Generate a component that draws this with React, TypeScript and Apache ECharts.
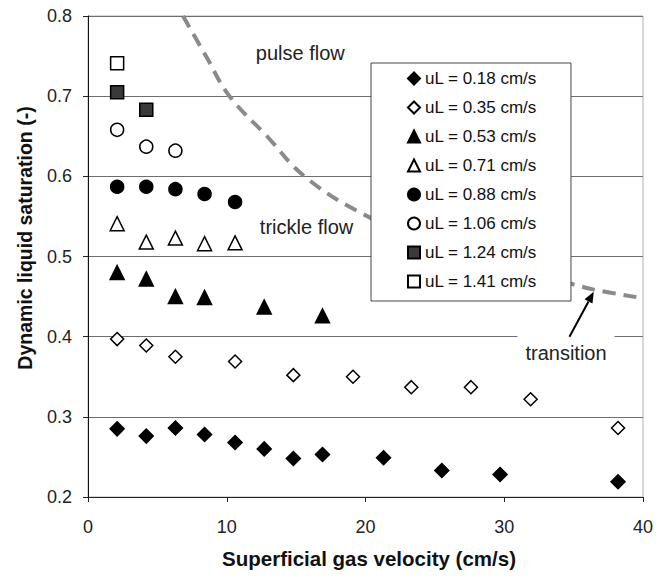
import React, { useEffect, useRef } from "react";
import * as echarts from "echarts";

// ---- data ----
const seriesNames = [
  "uL = 0.18 cm/s",
  "uL = 0.35 cm/s",
  "uL = 0.53 cm/s",
  "uL = 0.71 cm/s",
  "uL = 0.88 cm/s",
  "uL = 1.06 cm/s",
  "uL = 1.24 cm/s",
  "uL = 1.41 cm/s",
];

const x018 = [2.1, 4.2, 6.3, 8.4, 10.6, 12.7, 14.8, 16.9, 21.3, 25.5, 29.7, 38.2];
const y018 = [0.285, 0.276, 0.286, 0.278, 0.268, 0.26, 0.248, 0.253, 0.249, 0.233, 0.228, 0.219];
const x035 = [2.1, 4.2, 6.3, 10.6, 14.8, 19.1, 23.3, 27.6, 31.9, 38.2];
const y035 = [0.397, 0.389, 0.375, 0.369, 0.352, 0.35, 0.337, 0.337, 0.322, 0.286];
const x053 = [2.1, 4.2, 6.3, 8.4, 12.7, 16.9];
const y053 = [0.48, 0.472, 0.45, 0.449, 0.437, 0.426];
const x071 = [2.1, 4.2, 6.3, 8.4, 10.6];
const y071 = [0.541, 0.518, 0.523, 0.516, 0.517];
const x088 = [2.1, 4.2, 6.3, 8.4, 10.6];
const y088 = [0.587, 0.587, 0.584, 0.578, 0.568];
const x106 = [2.1, 4.2, 6.3];
const y106 = [0.658, 0.637, 0.632];
const x124 = [2.1, 4.2];
const y124 = [0.705, 0.683];
const x141 = [2.1];
const y141 = [0.741];

// transition boundary (dashed curve)
const xTrans = [6.85, 8.5, 10.2, 12.9, 15.6, 19.6, 24.0, 29.0, 34.6, 36.4, 40.0];
const yTrans = [0.8, 0.75, 0.7, 0.65, 0.6, 0.555, 0.522, 0.49, 0.467, 0.459, 0.448];

const xTicks = [0, 10, 20, 30, 40];
const yTickLabels = ["0.2", "0.3", "0.4", "0.5", "0.6", "0.7", "0.8"];

const FONT = "'Liberation Sans', Arial, Helvetica, sans-serif";

export default function App() {
  const ref = useRef<HTMLDivElement>(null);

  useEffect(() => {
    const chart = echarts.init(ref.current!, null, { renderer: "svg" });
    const pts = (xs: number[], ys: number[]) => xs.map((x, i) => [x, ys[i]]);

    const specs = [
      { xs: x018, ys: y018, symbol: "diamond", fill: "#000", size: 14 },
      { xs: x035, ys: y035, symbol: "diamond", fill: "#fff", size: 13 },
      { xs: x053, ys: y053, symbol: "triangle", fill: "#000", size: 14 },
      { xs: x071, ys: y071, symbol: "triangle", fill: "#fff", size: 14 },
      { xs: x088, ys: y088, symbol: "circle", fill: "#000", size: 13 },
      { xs: x106, ys: y106, symbol: "circle", fill: "#fff", size: 13 },
      { xs: x124, ys: y124, symbol: "rect", fill: "#3a3a3a", size: 13 },
      { xs: x141, ys: y141, symbol: "rect", fill: "#fff", size: 13 },
    ];

    const scatter = specs.map((s, i) => ({
      name: seriesNames[i],
      type: "scatter",
      data: pts(s.xs, s.ys),
      symbol: s.symbol,
      symbolSize: s.size,
      itemStyle: { color: s.fill, borderColor: "#000", borderWidth: 1.5, opacity: 1 },
      z: 3,
    }));

    chart.setOption({
      animation: false,
      backgroundColor: "#fff",
      textStyle: { fontFamily: FONT },
      grid: {
        left: 88,
        right: 25,
        top: 16,
        bottom: 82,
        show: true,
        borderColor: "#b0b0b0",
        borderWidth: 1,
      },
      xAxis: {
        type: "value",
        min: 0,
        max: 40,
        interval: 10,
        axisLine: { show: true, lineStyle: { color: "#222", width: 1 } },
        axisTick: { show: true, inside: false, length: 5, lineStyle: { color: "#222" } },
        axisLabel: {
          fontSize: 18,
          color: "#222",
          margin: 21,
          fontFamily: FONT,
          formatter: (v: number) => (xTicks.includes(v) ? String(v) : ""),
        },
        splitLine: { show: false },
      },
      yAxis: {
        type: "value",
        min: 0.2,
        max: 0.8,
        interval: 0.1,
        axisLine: { show: true, lineStyle: { color: "#111", width: 1 } },
        axisTick: { show: true, inside: false, length: 5, lineStyle: { color: "#222" } },
        axisLabel: {
          fontSize: 18,
          color: "#222",
          margin: 16,
          fontFamily: FONT,
          formatter: (v: number) => yTickLabels[Math.round((v - 0.2) * 10)] ?? "",
        },
        splitLine: { show: true, lineStyle: { color: "#6e6e6e", width: 1 } },
      },
      legend: {
        orient: "vertical",
        left: 371,
        top: 63,
        backgroundColor: "#fff",
        borderColor: "#444",
        borderWidth: 1,
        borderRadius: 0,
        padding: [7, 34, 11, 36],
        itemWidth: 12,
        itemHeight: 12,
        itemGap: 12,
        textStyle: { fontSize: 17, color: "#111", fontFamily: FONT },
        data: seriesNames,
        selectedMode: false,
        z: 5,
      },
      series: [
        ...scatter,
        {
          name: "transition",
          type: "line",
          data: pts(xTrans, yTrans),
          smooth: 0.4,
          symbol: "none",
          lineStyle: { color: "#8a8a8a", width: 4, type: [13, 8] },
          z: 2,
          silent: true,
        },
      ],
    });

    const px = (x: number, y: number) => chart.convertToPixel({ gridIndex: 0 }, [x, y]) as number[];

    const pulse = px(15.3, 0.754);
    const trickle = px(15.75, 0.537);
    const trans = px(34.45, 0.38);
    const a0 = px(34.7, 0.4);
    const a1 = px(36.45, 0.456);
    const dx = a1[0] - a0[0];
    const dy = a1[1] - a0[1];
    const len = Math.sqrt(dx * dx + dy * dy);
    const ux = dx / len;
    const uy = dy / len;
    const hl = 11;
    const hw = 4.5;
    const base = [a1[0] - ux * hl, a1[1] - uy * hl];
    const head = [
      [a1[0], a1[1]],
      [base[0] - uy * hw, base[1] + ux * hw],
      [base[0] + uy * hw, base[1] - ux * hw],
    ];

    chart.setOption({
      graphic: [
        {
          type: "text",
          x: pulse[0],
          y: pulse[1],
          z: 50,
          style: { text: "pulse flow", fontSize: 20, fill: "#222", align: "center", verticalAlign: "middle", fontFamily: FONT },
        },
        {
          type: "text",
          x: trickle[0],
          y: trickle[1],
          z: 50,
          style: { text: "trickle flow", fontSize: 20, fill: "#222", align: "center", verticalAlign: "middle", fontFamily: FONT },
        },
        {
          type: "text",
          x: trans[0],
          y: trans[1],
          z: 50,
          style: {
            text: "transition",
            fontSize: 20,
            fill: "#222",
            align: "center",
            verticalAlign: "middle",
            fontFamily: FONT,
            backgroundColor: "#fff",
            padding: [10, 8, 4, 8],
          },
        },
        {
          type: "line",
          z: 60,
          shape: { x1: a0[0], y1: a0[1], x2: base[0], y2: base[1] },
          style: { stroke: "#000", lineWidth: 2 },
        },
        {
          type: "polygon",
          z: 60,
          shape: { points: head },
          style: { fill: "#000" },
        },
        {
          type: "text",
          x: 369,
          y: 558,
          z: 50,
          style: {
            text: "Superficial gas velocity (cm/s)",
            fontSize: 20.5,
            fontWeight: "bold",
            fill: "#111",
            align: "center",
            verticalAlign: "middle",
            fontFamily: FONT,
          },
        },
        {
          type: "text",
          x: 25,
          y: 238,
          rotation: Math.PI / 2,
          z: 50,
          style: {
            text: "Dynamic liquid saturation (-)",
            fontSize: 19.5,
            fontWeight: "bold",
            fill: "#111",
            align: "center",
            verticalAlign: "middle",
            fontFamily: FONT,
          },
        },
      ],
    });

    return () => chart.dispose();
  }, []);

  return (
    <div
      ref={ref}
      style={{ position: "fixed", left: 0, top: 0, width: 668, height: 579, background: "#fff" }}
    />
  );
}
